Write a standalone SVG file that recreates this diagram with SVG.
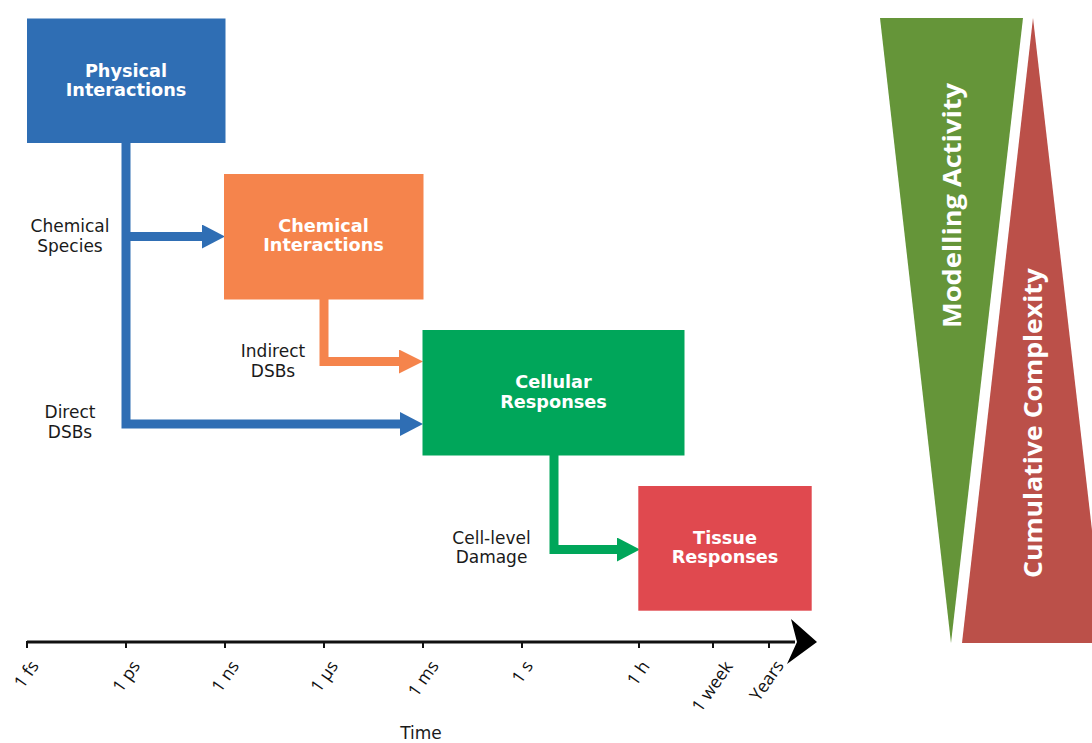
<svg xmlns="http://www.w3.org/2000/svg" width="1092" height="743" viewBox="0 0 1092 743">
<style>
.box-label{font-family:"DejaVu Sans",Verdana,sans-serif;font-weight:bold;font-size:17.7px;fill:#ffffff;text-anchor:middle}
.lbl{font-family:"DejaVu Sans",Verdana,sans-serif;font-size:17px;fill:#1a1a1a;text-anchor:middle}
.tick-lbl{font-family:"Open Sans","Noto Sans",sans-serif;font-size:17.5px;fill:#111;text-anchor:middle}
.tri-lbl{font-family:"Open Sans","Noto Sans",sans-serif;font-weight:bold;font-size:25px;fill:#ffffff;text-anchor:middle}
.conn{fill:none;stroke-width:9;stroke-linejoin:miter;stroke-linecap:butt}
.tick{stroke:#111;stroke-width:2}
</style>
<defs>
<marker id="ah-blue" markerUnits="userSpaceOnUse" markerWidth="24" markerHeight="24" refX="1" refY="12" orient="auto" viewBox="0 0 24 24"><path d="M0,0 L23,12 L0,24 z" fill="#2f6eb4"/></marker>
<marker id="ah-orange" markerUnits="userSpaceOnUse" markerWidth="25" markerHeight="24" refX="1" refY="12" orient="auto" viewBox="0 0 25 24"><path d="M0,0 L24,12 L0,24 z" fill="#f5844c"/></marker>
<marker id="ah-green" markerUnits="userSpaceOnUse" markerWidth="24" markerHeight="24" refX="1" refY="12" orient="auto" viewBox="0 0 24 24"><path d="M0,0 L23,12 L0,24 z" fill="#00a65a"/></marker>
</defs>
<rect width="1092" height="743" fill="#ffffff"/>

<g id="connectors">
<path class="conn" d="M126,143 V424 H401" stroke="#2f6eb4" marker-end="url(#ah-blue)"/>
<path class="conn" d="M126,236.5 H203" stroke="#2f6eb4" marker-end="url(#ah-blue)"/>
<path class="conn" d="M324,299 V361.5 H400" stroke="#f5844c" marker-end="url(#ah-orange)"/>
<path class="conn" d="M554,455 V549.5 H618" stroke="#00a65a" marker-end="url(#ah-green)"/>
</g>

<g id="physical">
<rect x="27" y="18.5" width="198.5" height="124.5" fill="#2f6eb4"/>
<text class="box-label" x="126" y="77">Physical</text>
<text class="box-label" x="126" y="96">Interactions</text>
</g>
<g id="chemical">
<rect x="224" y="174" width="199.5" height="125.5" fill="#f5844c"/>
<text class="box-label" x="323.5" y="232">Chemical</text>
<text class="box-label" x="323.5" y="251">Interactions</text>
</g>
<g id="cellular">
<rect x="422.5" y="330" width="262" height="125.5" fill="#00a65a"/>
<text class="box-label" x="553.5" y="388">Cellular</text>
<text class="box-label" x="553.5" y="407.5">Responses</text>
</g>
<g id="tissue">
<rect x="638.3" y="486" width="173.4" height="124.7" fill="#e0494f"/>
<text class="box-label" x="725" y="544">Tissue</text>
<text class="box-label" x="725" y="563">Responses</text>
</g>

<g id="labels">
<text class="lbl" x="70" y="232">Chemical</text>
<text class="lbl" x="70" y="252">Species</text>
<text class="lbl" x="273" y="356.5">Indirect</text>
<text class="lbl" x="273" y="376.5">DSBs</text>
<text class="lbl" x="70" y="418">Direct</text>
<text class="lbl" x="70" y="438">DSBs</text>
<text class="lbl" x="491.5" y="544">Cell-level</text>
<text class="lbl" x="491.5" y="563">Damage</text>
</g>

<g id="time-axis">
<line x1="27" y1="642" x2="795" y2="642" stroke="#111" stroke-width="3"/>
<path d="M791,619 L817,642 L787,664 L797,642 z" fill="#000"/>
<line class="tick" x1="27" y1="641" x2="27" y2="648"/>
<line class="tick" x1="126" y1="641" x2="126" y2="648"/>
<line class="tick" x1="225" y1="641" x2="225" y2="648"/>
<line class="tick" x1="324" y1="641" x2="324" y2="648"/>
<line class="tick" x1="423" y1="641" x2="423" y2="648"/>
<line class="tick" x1="522" y1="641" x2="522" y2="648"/>
<line class="tick" x1="639" y1="641" x2="639" y2="648"/>
<line class="tick" x1="713" y1="641" x2="713" y2="648"/>
<line class="tick" x1="769" y1="641" x2="769" y2="648"/>
<text class="tick-lbl" transform="translate(31.2,677.6) rotate(-55)">1 fs</text>
<text class="tick-lbl" transform="translate(131.2,679.8) rotate(-55)">1 ps</text>
<text class="tick-lbl" transform="translate(230.2,679.8) rotate(-55)">1 ns</text>
<text class="tick-lbl" transform="translate(329.2,679.8) rotate(-55)">1 µs</text>
<text class="tick-lbl" transform="translate(428.2,682) rotate(-55)">1 ms</text>
<text class="tick-lbl" transform="translate(527.2,675.3) rotate(-55)">1 s</text>
<text class="tick-lbl" transform="translate(643.2,676.6) rotate(-55)">1 h</text>
<text class="tick-lbl" transform="translate(717.2,689.8) rotate(-55)">1 week</text>
<text class="tick-lbl" transform="translate(771.7,684) rotate(-55)">Years</text>
<text class="lbl" x="421" y="739">Time</text>
</g>

<g id="modelling-activity">
<polygon points="880,18 1023,18 951,643" fill="#659539"/>
<text class="tri-lbl" transform="translate(961,205.5) rotate(-90)" textLength="245" lengthAdjust="spacingAndGlyphs">Modelling Activity</text>
</g>
<g id="cumulative-complexity">
<polygon points="1033,18 1105,643 962,643" fill="#bb5049"/>
<text class="tri-lbl" transform="translate(1042,423) rotate(-90)" textLength="310" lengthAdjust="spacingAndGlyphs">Cumulative Complexity</text>
</g>
</svg>
